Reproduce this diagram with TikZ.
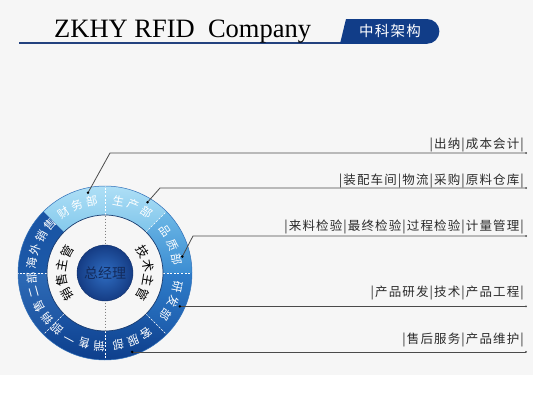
\documentclass[tikz,border=0pt]{standalone}
\usepackage{fontspec}
\setmainfont{Liberation Serif}
\newfontfamily\cjk{Noto Sans CJK SC}
\newfontfamily\cjkls[LetterSpace=9]{Noto Sans CJK SC}
\usetikzlibrary{calc}
\definecolor{bggray}{HTML}{F6F6F6}
\definecolor{tabblue}{HTML}{113D88}
\definecolor{lineblue}{HTML}{23427F}
\definecolor{linelight}{HTML}{B4C6E0}
\definecolor{connector}{HTML}{4A4A4A}
\definecolor{labeltext}{HTML}{2A2A2A}
\definecolor{ringedge}{HTML}{1B3D70}
\definecolor{ringouter}{HTML}{2F6FB8}
\definecolor{balltext}{HTML}{132B5C}
\definecolor{ballin}{HTML}{2F6DC2}
\definecolor{ballout}{HTML}{153C84}
\definecolor{cA}{HTML}{AEDFF6}
\definecolor{cB}{HTML}{84C9EC}
\definecolor{cC}{HTML}{7EC4EA}
\definecolor{cD}{HTML}{6DB8E6}
\definecolor{cE}{HTML}{3C8DD2}
\definecolor{cF}{HTML}{2E7CC9}
\definecolor{cG}{HTML}{1D5CAC}
\definecolor{cH}{HTML}{1B59A8}
\definecolor{cI}{HTML}{0E3F8C}
\definecolor{cJ}{HTML}{2D6AB6}
\definecolor{cK}{HTML}{1C53A0}
\definecolor{cL}{HTML}{1A54A4}
\tikzset{
  ringchar/.style={font=\cjk\fontsize{11.5}{11.5}\selectfont, text=white, inner sep=0},
  innerchar/.style={font=\cjk\fontsize{12.5}{12.5}\selectfont, text=black, inner sep=0},
  deptlabel/.style={anchor=east, inner sep=0, font=\cjkls\fontsize{12.5}{13}\selectfont, text=labeltext},
  conn/.style={draw=connector, line width=0.8pt},
  divider/.style={draw=white, line width=0.6pt, dash pattern=on 2pt off 1.6pt},
}
\newcommand\ringseg[4]{%
  \shade[top color=#3, bottom color=#4] (#1:87) arc[start angle=#1, end angle=#2, radius=87]
    -- (#2:58) arc[start angle=#2, end angle=#1, radius=58] -- cycle;}
\begin{document}
\begin{tikzpicture}[x=1pt,y=1pt]
\fill[bggray] (0,0) rectangle (533,-375);
\fill[white] (0,-375) rectangle (533,-415);
\useasboundingbox (0,0) rectangle (533,-415);
% header
\shade[left color=lineblue, middle color=linelight, right color=lineblue] (19,-42.2) rectangle (342,-43.8);
\node[anchor=base west, inner sep=0, font=\fontsize{26.5}{30}\selectfont, text=black] (title) at (54,-37) {ZKHY RFID\ \ Company};
\fill[tabblue] (340,-43.8) -- (346,-19) -- (427,-19) arc[start angle=90, end angle=-90, radius=12.4] -- cycle;
\node[font=\cjkls\fontsize{14.5}{15}\selectfont, text=white, inner sep=0] (tabtext) at (390,-31) {中科架构};
% wheel
\begin{scope}[shift={(105,-273)}]
  \coordinate (wc) at (0,0);
  \ringseg{135}{90}{cA}{cB}
  \ringseg{90}{45}{cA}{cC}
  \ringseg{45}{0}{cD}{cE}
  \ringseg{0}{-45}{cF}{cG}
  \ringseg{-45}{-90}{cH}{cI}
  \ringseg{-90}{-135}{cL}{cI}
  \ringseg{-135}{-180}{cJ}{cK}
  \ringseg{180}{135}{cL}{cH}
  \foreach \a in {90,45,0,-45,-90,-135,180}
    \path[divider] (\a:58) -- (\a:87);
  \draw[ringouter, line width=0.5pt] (0,0) circle (87);
  \draw[ringedge, line width=0.7pt] (0,0) circle (58);
  \draw[gray, line width=0.6pt, dash pattern=on 1.5pt off 1.5pt] (0,57.5) -- (0,-57.5);
  \shade[inner color=ballin, outer color=ballout] (0,0) circle (28);
  \draw[ballout!80!black, line width=0.4pt] (0,0) circle (28);
  \node[font=\cjk\fontsize{14}{14}\selectfont, text=balltext, inner sep=0] (gm) at (0,0) {总经理};
  % ring labels (clockwise)
  \foreach \ang/\n/\st/\chars [count=\k] in {112.5/3/12/{财,务,部}, 67.5/3/12/{生,产,部}, 22.5/3/12/{品,质,部}, -22.5/3/12/{研,发,部}, -67.5/3/12/{客,服,部}, -112.5/4/12/{销,售,一,部}, -159/4/11.5/{销,售,二,部}, 155.5/4/11.5/{海,外,销,售}} {
    \foreach \c [count=\i] in \chars {
      \pgfmathsetmacro\a{\ang + (\n+1)/2*\st - \i*\st}
      \node[ringchar, rotate=\a-90] (r\k-\i) at (\a:73.5) {\c};
    }
  }
  % inner labels
  \foreach \ang/\chars [count=\k] in {0/{技,术,主,管}, 180/{销,售,主,管}} {
    \foreach \c [count=\i] in \chars {
      \pgfmathsetmacro\a{\ang + 2.5*19.5 - \i*19.5}
      \node[innerchar, rotate=\a-90] (m\k-\i) at (\a:43.5) {\c};
    }
  }
  \coordinate (d1) at (102:82);
  \coordinate (d2) at (59:82.5);
  \coordinate (d3) at (12:79);
  \coordinate (d4) at (-24:82);
  \coordinate (d5) at (-71:83.5);
\end{scope}
% connectors
\coordinate (rx) at (526,0);
\coordinate (k1) at (110,-153);
\coordinate (k2) at (160,-188);
\coordinate (k3) at (193,-236);
\coordinate (e1) at (k1 -| rx);
\coordinate (e2) at (k2 -| rx);
\coordinate (e3) at (k3 -| rx);
\coordinate (e4) at (d4 -| rx);
\coordinate (e5) at (d5 -| rx);
\path[conn] (d1) -- (k1) -- (e1);
\path[conn] (d2) -- (k2) -- (e2);
\path[conn] (d3) -- (k3) -- (e3);
\path[conn] (d4) -- (e4);
\path[conn] (d5) -- (e5);
\foreach \p in {d1,d2,d3,d4,d5} \fill[black] (\p) circle (1.4);
\foreach \p in {e1,e2,e3,e4,e5} \fill[connector] (\p) circle (1);
% department labels
\node[deptlabel] (t1) at (524,-145) {|出纳|成本会计|};
\node[deptlabel] (t2) at (524,-181) {|装配车间|物流|采购|原料仓库|};
\node[deptlabel] (t3) at (524,-227) {|来料检验|最终检验|过程检验|计量管理|};
\node[deptlabel] (t4) at (524,-293) {|产品研发|技术|产品工程|};
\node[deptlabel] (t5) at (524,-340) {|售后服务|产品维护|};
\end{tikzpicture}
\end{document}
